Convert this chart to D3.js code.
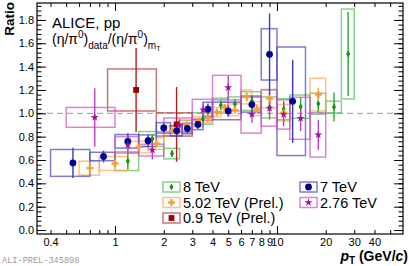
<!DOCTYPE html>
<html>
<head>
<meta charset="utf-8">
<script src="https://cdn.jsdelivr.net/npm/d3@7"></script>
<style>
body { margin: 0; background: #fff; }
svg { display: block; font-family: "Liberation Sans", Arial, sans-serif; }
</style>
</head>
<body>
<svg width="409" height="266"></svg>
<script>
// 8 TeV
var lo8   = [1.0, 1.4, 2.0, 2.5, 3.0, 4.0, 5.0, 6.0, 8.0, 10, 12, 16, 20, 25];
var hi8   = [1.4, 2.0, 2.5, 3.0, 4.0, 5.0, 6.0, 8.0, 10, 12, 16, 20, 25, 30];
var r8    = [0.59, 0.78, 0.655, 0.89, 0.955, 1.07, 1.08, 1.105, 1.05, 1.035, 1.057, 1.082, 1.054, 1.508];
var sys8  = [0.08, 0.064, 0.045, 0.05, 0.05, 0.06, 0.06, 0.08, 0.09, 0.09, 0.10, 0.09, 0.05, 0.385];
var stat8 = [0.07, 0.04, 0.03, 0.03, 0.03, 0.04, 0.04, 0.05, 0.06, 0.07, 0.08, 0.07, 0.125, 0.36];

// 7 TeV
var lo7   = [0.4, 0.7, 1.0, 1.4, 1.8, 2.2, 2.6, 3.0, 3.5, 4.0, 6.0, 8.0, 10];
var hi7   = [0.7, 1.0, 1.4, 1.8, 2.2, 2.6, 3.0, 3.5, 4.0, 6.0, 8.0, 10, 15];
var r7    = [0.575, 0.63, 0.76, 0.765, 0.875, 0.85, 0.87, 0.905, 1.035, 1.02, 1.075, 1.505, 1.103];
var sys7  = [0.115, 0.036, 0.058, 0.05, 0.045, 0.045, 0.045, 0.045, 0.06, 0.075, 0.065, 0.22, 0.465];
var stat7 = [0.13, 0.05, 0.07, 0.05, 0.04, 0.04, 0.04, 0.04, 0.05, 0.05, 0.07, 0.35, 0.355];

// 5.02 TeV (Prel.)
var lo5   = [0.6, 0.8, 1.2, 1.6, 2.0, 2.5, 3.0, 3.5, 4.0, 4.5, 5.0, 6.0, 7.0, 8.0, 10, 16];
var hi5   = [0.8, 1.2, 1.6, 2.0, 2.5, 3.0, 3.5, 4.0, 4.5, 5.0, 6.0, 7.0, 8.0, 10, 12, 20];
var r5    = [0.53, 0.57, 0.71, 0.74, 0.85, 0.90, 0.93, 0.96, 1.01, 1.05, 1.03, 1.14, 1.04, 1.125, 1.005, 1.16];
var sys5  = [0.06, 0.06, 0.05, 0.05, 0.04, 0.04, 0.04, 0.04, 0.04, 0.05, 0.05, 0.06, 0.06, 0.08, 0.07, 0.14];
var stat5 = [0.04, 0.03, 0.02, 0.02, 0.02, 0.02, 0.02, 0.02, 0.03, 0.03, 0.03, 0.04, 0.04, 0.05, 0.06, 0.06];

// 2.76 TeV
var lo2   = [0.5, 1.0, 1.4, 2.0, 3.0, 4.0, 6.0, 8.0, 10, 12, 16];
var hi2   = [1.0, 1.4, 2.0, 3.0, 4.0, 6.0, 8.0, 10, 12, 16, 20];
var r2    = [0.965, 0.73, 0.685, 0.90, 1.03, 1.22, 0.99, 1.045, 0.99, 0.957, 0.815];
var sys2  = [0.085, 0.07, 0.05, 0.06, 0.09, 0.105, 0.16, 0.155, 0.125, 0.18, 0.19];
var stat2 = [0.25, 0.08, 0.08, 0.05, 0.06, 0.10, 0.07, 0.10, 0.10, 0.11, 0.13];

// 0.9 TeV (Prel.)
var lo09   = [0.9, 1.8];
var hi09   = [1.8, 3.0];
var r09    = [1.2, 0.905];
var sys09  = [0.18, 0.10];
var stat09 = [0.36, 0.32];

var yMajor = [0, 0.2, 0.4, 0.6, 0.8, 1.0, 1.2, 1.4, 1.6, 1.8];
var xTicks = [0.4, 0.5, 0.6, 0.7, 0.8, 0.9, 1, 2, 3, 4, 5, 6, 7, 8, 9, 10, 20, 30, 40, 50];
var xLabels = [0.4, 1, 2, 3, 4, 5, 6, 7, 8, 9, 10, 20, 30, 40];

var svg = d3.select("svg"),
    margin = {top: 3, right: 6, bottom: 32, left: 37},
    width = +svg.attr("width") - margin.left - margin.right,
    height = +svg.attr("height") - margin.top - margin.bottom,
    g = svg.append("g").attr("transform", "translate(" + margin.left + "," + margin.top + ")");

var x = d3.scaleLog().domain([0.33, 60]).range([0, width]);
var y = d3.scaleLinear().domain([-0.034, 1.945]).range([height, 0]);

var series = [
  {lo: lo8, hi: hi8, v: r8, sys: sys8, stat: stat8, mark: "#0c9a0c", bar: "#2ca82c", box: "rgba(70,185,70,0.65)", sym: d3.symbolDiamond, size: 14},
  {lo: lo5, hi: hi5, v: r5, sys: sys5, stat: stat5, mark: "#ff9a30", bar: "#ffa64d", box: "rgba(255,165,80,0.7)", sym: d3.symbolCross, size: 26},
  {lo: lo09, hi: hi09, v: r09, sys: sys09, stat: stat09, mark: "#a00000", bar: "#b02020", box: "rgba(175,60,60,0.7)", sym: d3.symbolSquare, size: 34},
  {lo: lo7, hi: hi7, v: r7, sys: sys7, stat: stat7, mark: "#000090", bar: "#3a3ab8", box: "rgba(70,70,190,0.7)", sym: d3.symbolCircle, size: 36},
  {lo: lo2, hi: hi2, v: r2, sys: sys2, stat: stat2, mark: "#a010a0", bar: "#c040c0", box: "rgba(200,80,200,0.7)", sym: d3.symbolStar, size: 20}
];

svg.append("defs").append("clipPath").attr("id", "clip")
  .append("rect").attr("width", width).attr("height", height);

var plot = g.append("g").attr("clip-path", "url(#clip)");

// reference line at 1
plot.append("line")
    .attr("x1", 0).attr("x2", width)
    .attr("y1", y(1)).attr("y2", y(1))
    .attr("stroke", "#aaa").attr("stroke-width", 1.2)
    .attr("stroke-dasharray", "6,4");

function rows(s) {
  return s.v.map(function(v, i) {
    return {lo: s.lo[i], hi: s.hi[i], c: (s.lo[i] + s.hi[i]) / 2, v: v, sys: s.sys[i], stat: s.stat[i]};
  });
}

// systematic boxes
series.forEach(function(s) {
  plot.append("g").selectAll("rect")
    .data(rows(s))
    .enter().append("rect")
      .attr("x", function(d) { return x(d.lo); })
      .attr("width", function(d) { return x(d.hi) - x(d.lo); })
      .attr("y", function(d) { return y(d.v + d.sys); })
      .attr("height", function(d) { return y(d.v - d.sys) - y(d.v + d.sys); })
      .attr("fill", "none")
      .attr("stroke", s.box)
      .attr("stroke-width", 1.5);
});

// statistical bars
series.forEach(function(s) {
  plot.append("g").selectAll("line")
    .data(rows(s))
    .enter().append("line")
      .attr("x1", function(d) { return x(d.c); })
      .attr("x2", function(d) { return x(d.c); })
      .attr("y1", function(d) { return y(d.v + d.stat); })
      .attr("y2", function(d) { return y(d.v - d.stat); })
      .attr("stroke", s.bar)
      .attr("stroke-width", 1.4);
});

// markers
series.forEach(function(s) {
  plot.append("g").selectAll("path")
    .data(rows(s))
    .enter().append("path")
      .attr("transform", function(d) { return "translate(" + x(d.c) + "," + y(d.v) + ")"; })
      .attr("d", d3.symbol().type(s.sym).size(s.size))
      .attr("fill", s.mark);
});

// axes
function style(sel) {
  sel.select(".domain").remove();
  sel.selectAll("line").attr("stroke", "#000");
  sel.selectAll("text").attr("fill", "#000").attr("font-size", 11).attr("font-family", "Liberation Sans, Arial, sans-serif");
}

var yMinor = d3.range(0, 1.945, 0.04);

g.append("g").call(d3.axisLeft(y).tickValues(yMajor).tickSize(-9).tickPadding(3).tickFormat(d3.format(".1f"))).call(style);
g.append("g").call(d3.axisLeft(y).tickValues(yMinor).tickSize(-4.5).tickFormat("")).call(style);
g.append("g").attr("transform", "translate(" + width + ",0)")
  .call(d3.axisRight(y).tickValues(yMajor).tickSize(-9).tickFormat("")).call(style);
g.append("g").attr("transform", "translate(" + width + ",0)")
  .call(d3.axisRight(y).tickValues(yMinor).tickSize(-4.5).tickFormat("")).call(style);

function tlen(d) { return (d === 1 || d === 10) ? 8 : 4; }

var xb = g.append("g").attr("transform", "translate(0," + height + ")")
  .call(d3.axisBottom(x).tickValues(xTicks).tickSize(0).tickPadding(4)
    .tickFormat(function(d) { return xLabels.indexOf(d) >= 0 ? d3.format("~g")(d) : ""; }))
  .call(style);
xb.selectAll(".tick line").attr("y2", function(d) { return -tlen(d); });

var xt = g.append("g")
  .call(d3.axisTop(x).tickValues(xTicks).tickSize(0).tickFormat(""))
  .call(style);
xt.selectAll(".tick line").attr("y2", function(d) { return tlen(d); });

// frame
g.append("rect").attr("width", width).attr("height", height)
  .attr("fill", "none").attr("stroke", "#000").attr("stroke-width", 1.2);

// axis titles
svg.append("text")
    .attr("transform", "translate(14,2) rotate(-90)")
    .attr("text-anchor", "end")
    .attr("font-weight", "bold").attr("font-size", 13.5)
    .text("Ratio");

var xt2 = svg.append("text")
    .attr("x", 408).attr("y", 261)
    .attr("text-anchor", "end")
    .attr("font-weight", "bold").attr("font-size", 14);
xt2.append("tspan").attr("font-style", "italic").text("p");
xt2.append("tspan").attr("font-size", 10).attr("dy", 3).text("T");
xt2.append("tspan").attr("dy", -3).text(" (GeV/");
xt2.append("tspan").attr("font-style", "italic").text("c");
xt2.append("tspan").text(")");

// labels
svg.append("text").attr("x", 52).attr("y", 28).attr("font-size", 15).text("ALICE, pp");

var f = svg.append("text").attr("x", 52).attr("y", 44).attr("font-size", 14);
f.append("tspan").text("(η/π");
f.append("tspan").attr("font-size", 10).attr("dy", -6).text("0");
f.append("tspan").attr("dy", 6).text(")");
f.append("tspan").attr("font-size", 10).attr("dy", 5).text("data");
f.append("tspan").attr("dy", -5).text("/(η/π");
f.append("tspan").attr("font-size", 10).attr("dy", -6).text("0");
f.append("tspan").attr("dy", 6).text(")");
f.append("tspan").attr("font-size", 10).attr("dy", 5).text("m");
f.append("tspan").attr("font-size", 7).attr("dy", 2).text("T");

svg.append("text").attr("x", 2).attr("y", 263)
    .attr("font-family", "Liberation Mono, DejaVu Sans Mono, monospace")
    .attr("font-size", 8.6).attr("fill", "#999")
    .text("ALI-PREL-345898");

// legend
var legendNames = ["8 TeV", "5.02 TeV (Prel.)", "0.9 TeV (Prel.)", "7 TeV", "2.76 TeV"];
var legendCol = [0, 0, 0, 1, 1];
var legendRow = [0, 1, 2, 0, 1];

var leg = svg.append("g").selectAll("g")
  .data(series)
  .enter().append("g")
    .attr("transform", function(d, i) { return "translate(" + (163 + legendCol[i] * 137) + "," + (187 + legendRow[i] * 15.5) + ")"; });

leg.append("rect")
    .attr("x", 0).attr("y", -5).attr("width", 17).attr("height", 10)
    .attr("fill", "none").attr("stroke", function(d) { return d.box; }).attr("stroke-width", 1.5);
leg.append("path")
    .attr("transform", "translate(8.5,0)")
    .attr("d", function(d) { return d3.symbol().type(d.sym).size(d.size)(); })
    .attr("fill", function(d) { return d.mark; });
leg.append("text")
    .attr("x", 20).attr("y", 0).attr("dy", "0.35em")
    .attr("font-size", 14.5)
    .text(function(d, i) { return legendNames[i]; });
</script>
</body>
</html>
